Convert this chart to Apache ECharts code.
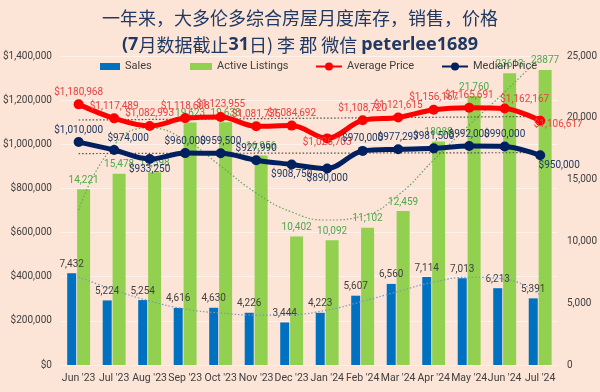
<!DOCTYPE html>
<html>
<head>
<meta charset="utf-8">
<script src="https://cdn.jsdelivr.net/npm/echarts@6/dist/echarts.min.js"></script>
<style>
html,body{margin:0;padding:0;background:#fce4d6;}
#c{width:600px;height:392px;}
</style>
</head>
<body>
<div id="c"></div>
<script>
const categories = ["Jun '23","Jul '23","Aug '23","Sep '23","Oct '23","Nov '23","Dec '23","Jan '24","Feb '24","Mar '24","Apr '24","May '24","Jun '24","Jul '24"];
const sales = [7432,5224,5254,4616,4630,4226,3444,4223,5607,6560,7114,7013,6213,5391];
const listings = [14221,15478,15598,19623,19638,16956,10402,10092,11102,12459,18088,21760,23613,23877];
const listingLabels = ["14,221","15,478","15,598","19,623","19,638","16,956","10,402","10,092","11,102","12,459","18088","21,760","23613","23877"];
const avgPrice = [1180968,1117489,1082993,1118608,1123955,1081735,1084692,1026703,1108720,1121615,1156167,1165691,1162167,1106617];
const medianPrice = [1010000,974000,933250,960000,959500,927990,908750,890000,970000,977297,981500,992000,990000,950000];
const salesTrend = [7120,6070,5180,4530,4200,4040,4080,4450,5150,5950,6700,7100,6950,5650];
const listingsTrend = [12540,17800,19175,18200,16100,13915,12380,11730,12055,13750,16585,19415,22085,24900];
const avgTrend = [1110000,null,null,null,null,null,null,null,null,null,null,null,null,1126000];
const medianTrend = [958000,null,null,null,null,null,null,null,null,null,null,null,null,962000];
const leftTicks = [0,200000,400000,600000,800000,1000000,1200000,1400000];
const rightTicks = [0,5000,10000,15000,20000,25000];

const FONT = 'Roboto, "Noto Sans", sans-serif';
const fmt = v => v.toLocaleString('en-US');

const avgLabelCfg = {
  7: {position:'bottom', distance:-6},
  12: {position:'top', offset:[20,3]},
  13: {position:'bottom', distance:0, offset:[18,-6]}
};
const medLabelCfg = {
  1: {position:'top', offset:[14,0]},
  2: {position:'bottom', distance:0},
  6: {position:'bottom', distance:0},
  7: {position:'bottom', distance:0},
  13: {position:'bottom', distance:0, offset:[19,0]}
};

const chart = echarts.init(document.getElementById('c'), null, {renderer:'canvas'});
const legendBase = {top:56, itemHeight:7, itemGap:6, textStyle:{fontFamily:FONT,fontSize:11,color:'#404040'}};
chart.setOption({
  backgroundColor:'#fce4d6',
  animation:false,
  title:[
    {text:'一年来，大多伦多综合房屋月度库存，销售，价格', left:'center', top:4,
     textStyle:{fontFamily:'"Noto Sans CJK SC", sans-serif', fontSize:18, fontWeight:'normal', color:'#1f3864'}},
    {text:'{b|(7}{n|月数据截止}{b|31}{n|日) 李 郡 微信 }{b|peterlee1689}', left:'center', top:31,
     textStyle:{rich:{
       b:{fontFamily:'"Noto Sans", "Noto Sans CJK SC", sans-serif', fontSize:18, fontWeight:'bold', color:'#1f3864'},
       n:{fontFamily:'"Noto Sans CJK SC", sans-serif', fontSize:18, fontWeight:'normal', color:'#1f3864'}
     }}}
  ],
  legend:[
    Object.assign({}, legendBase, {left:95, data:[{name:'Sales', icon:'rect'}], itemWidth:20}),
    Object.assign({}, legendBase, {left:185, data:[{name:'Active Listings', icon:'rect'}], itemWidth:22}),
    Object.assign({}, legendBase, {left:310, data:['Average Price'], itemWidth:26, itemHeight:10}),
    Object.assign({}, legendBase, {left:436, data:['Median Price'], itemWidth:26, itemHeight:10})
  ],
  grid:{left:54, right:35, top:56, bottom:27, containLabel:false},
  xAxis:{
    type:'category', data:categories,
    axisLine:{show:true, lineStyle:{color:'#f3f0ee', width:1}},
    axisTick:{show:false},
    axisLabel:{fontFamily:FONT, fontSize:10.5, color:'#404040', margin:8, interval:0}
  },
  yAxis:[
    {type:'value', min:leftTicks[0], max:leftTicks[leftTicks.length-1], interval:leftTicks[1]-leftTicks[0],
     axisLine:{show:false}, axisTick:{show:false},
     splitLine:{show:true, lineStyle:{color:'rgba(255,255,255,0.55)', width:1}},
     axisLabel:{fontFamily:FONT, fontSize:10, color:'#404040', margin:9, formatter:v=>'$'+fmt(v)}},
    {type:'value', min:rightTicks[0], max:rightTicks[rightTicks.length-1], interval:rightTicks[1]-rightTicks[0],
     axisLine:{show:false}, axisTick:{show:false}, splitLine:{show:false},
     axisLabel:{fontFamily:FONT, fontSize:10, color:'#404040', margin:9, formatter:v=>fmt(v)}}
  ],
  series:[
    {name:'Sales', type:'bar', yAxisIndex:1, data:sales, barWidth:9, barGap:'10%',
     itemStyle:{color:'#0070c0'},
     label:{show:true, position:'top', distance:4, fontFamily:FONT, fontSize:10, color:'#404040', formatter:p=>fmt(p.value)}},
    {name:'Active Listings', type:'bar', yAxisIndex:1, data:listings, barWidth:13, barGap:'10%',
     itemStyle:{color:'#92d050'},
     label:{show:true, position:'top', distance:4, fontFamily:FONT, fontSize:10, color:'#4ea84e', formatter:p=>listingLabels[p.dataIndex]}},
    {name:'salesTrend', type:'line', yAxisIndex:1, data:salesTrend, smooth:0.5, symbol:'none', silent:true,
     lineStyle:{color:'#7a98b8', width:1.2, type:[1.5,2]}, z:3},
    {name:'listingsTrend', type:'line', yAxisIndex:1, data:listingsTrend, smooth:0.5, symbol:'none', silent:true,
     lineStyle:{color:'#5fa85f', width:1.2, type:[1.5,2]}, z:3},
    {name:'avgTrend', type:'line', yAxisIndex:0, data:avgTrend, connectNulls:true, symbol:'none', silent:true,
     lineStyle:{color:'#505050', width:1.2, type:[1.5,2]}, z:3},
    {name:'medianTrend', type:'line', yAxisIndex:0, data:medianTrend, connectNulls:true, symbol:'none', silent:true,
     lineStyle:{color:'#505050', width:1.2, type:[1.5,2]}, z:3},
    {name:'Average Price', type:'line', yAxisIndex:0, smooth:0.35, symbol:'circle', symbolSize:10,
     data:avgPrice.map((v,i)=>({value:v, label:avgLabelCfg[i]||{}})),
     lineStyle:{color:'#ff0000', width:5}, itemStyle:{color:'#ff0000'}, z:5,
     label:{show:true, position:'top', distance:2, fontFamily:FONT, fontSize:10, color:'#e84040', formatter:p=>'$'+fmt(p.value)}},
    {name:'Median Price', type:'line', yAxisIndex:0, smooth:0.35, symbol:'circle', symbolSize:10,
     data:medianPrice.map((v,i)=>({value:v, label:medLabelCfg[i]||{}})),
     lineStyle:{color:'#002060', width:5}, itemStyle:{color:'#002060'}, z:5,
     label:{show:true, position:'top', distance:2, fontFamily:FONT, fontSize:10, color:'#1f3864', formatter:p=>'$'+fmt(p.value)}}
  ]
});
</script>
</body>
</html>
